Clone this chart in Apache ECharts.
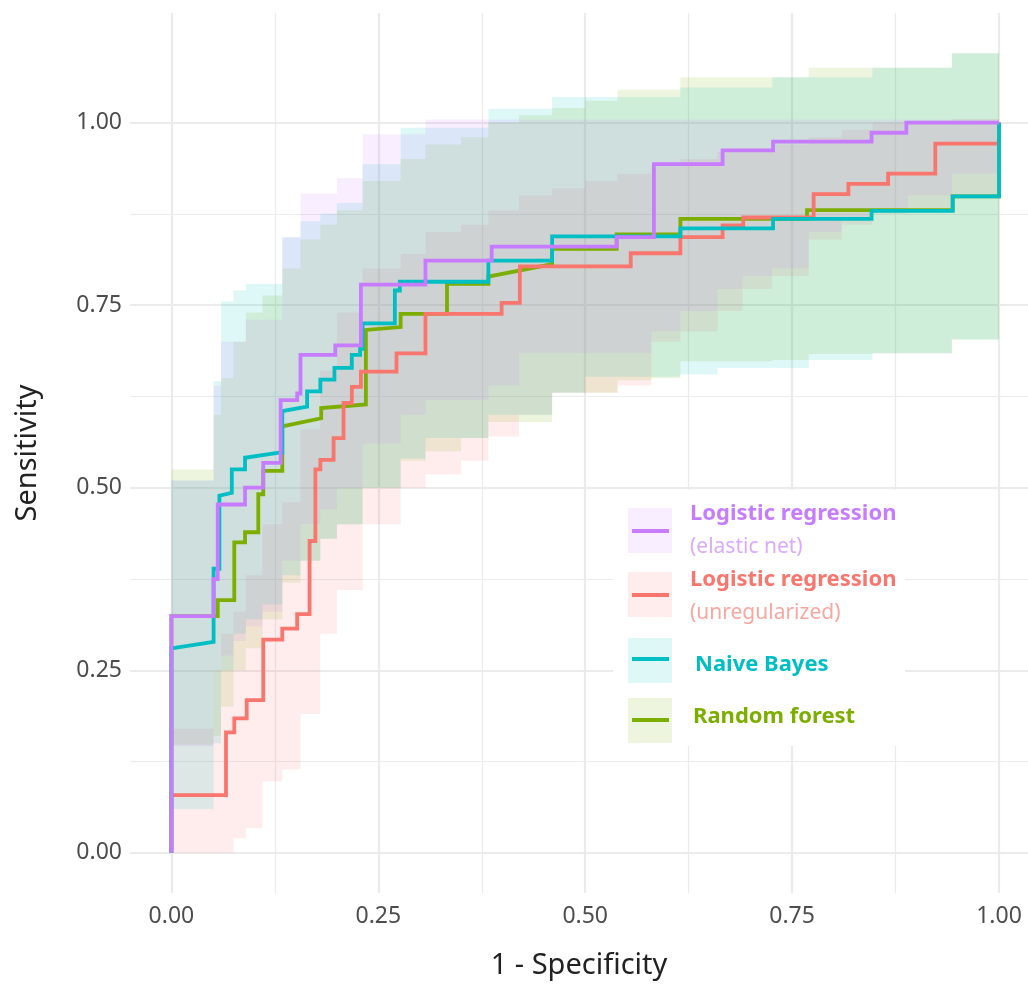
<!DOCTYPE html>
<html>
<head>
<meta charset="utf-8">
<title>ROC curves</title>
<script src="https://cdn.jsdelivr.net/npm/echarts@6/dist/echarts.min.js"></script>
<style>
  html, body { margin: 0; padding: 0; background: #fff; }
  #chart { width: 1028px; height: 985px; }
</style>
</head>
<body>
<div id="chart"></div>
<script>
// ROC corner points (1 - specificity, sensitivity)
const enetFpr  = [0, 0, 0.051, 0.051, 0.056, 0.056, 0.089, 0.089, 0.111, 0.111, 0.132, 0.132, 0.152, 0.152, 0.156, 0.156, 0.198, 0.198, 0.229, 0.229, 0.307, 0.307, 0.387, 0.387, 0.538, 0.538, 0.583, 0.583, 0.666, 0.666, 0.727, 0.727, 0.846, 0.846, 0.888, 0.888, 1];
const enetSens = [0, 0.324, 0.324, 0.375, 0.375, 0.477, 0.477, 0.5, 0.5, 0.534, 0.534, 0.62, 0.62, 0.629, 0.629, 0.682, 0.682, 0.695, 0.695, 0.778, 0.778, 0.811, 0.811, 0.83, 0.83, 0.843, 0.843, 0.943, 0.943, 0.962, 0.962, 0.974, 0.974, 0.986, 0.986, 1, 1];

const unregFpr  = [0, 0, 0.066, 0.066, 0.076, 0.076, 0.091, 0.091, 0.111, 0.111, 0.134, 0.134, 0.152, 0.152, 0.167, 0.167, 0.174, 0.174, 0.18, 0.18, 0.196, 0.196, 0.208, 0.208, 0.218, 0.218, 0.229, 0.229, 0.272, 0.272, 0.307, 0.307, 0.399, 0.399, 0.421, 0.421, 0.555, 0.555, 0.615, 0.615, 0.666, 0.666, 0.691, 0.691, 0.776, 0.776, 0.818, 0.818, 0.866, 0.866, 0.923, 0.923, 1];
const unregSens = [0, 0.079, 0.079, 0.165, 0.165, 0.184, 0.184, 0.209, 0.209, 0.292, 0.292, 0.307, 0.307, 0.327, 0.327, 0.427, 0.427, 0.525, 0.525, 0.538, 0.538, 0.568, 0.568, 0.616, 0.616, 0.638, 0.638, 0.659, 0.659, 0.684, 0.684, 0.738, 0.738, 0.753, 0.753, 0.803, 0.803, 0.821, 0.821, 0.843, 0.843, 0.859, 0.859, 0.87, 0.87, 0.902, 0.902, 0.916, 0.916, 0.93, 0.93, 0.971, 0.971];

const nbFpr  = [0, 0, 0.051, 0.051, 0.058, 0.058, 0.073, 0.073, 0.089, 0.089, 0.130, 0.134, 0.134, 0.164, 0.164, 0.18, 0.18, 0.197, 0.197, 0.218, 0.218, 0.228, 0.228, 0.231, 0.231, 0.27, 0.27, 0.276, 0.276, 0.383, 0.383, 0.46, 0.46, 0.615, 0.615, 0.727, 0.727, 0.846, 0.846, 0.944, 0.944, 1, 1];
const nbSens = [0, 0.28, 0.289, 0.389, 0.389, 0.489, 0.493, 0.525, 0.525, 0.541, 0.548, 0.548, 0.605, 0.611, 0.632, 0.632, 0.648, 0.648, 0.664, 0.664, 0.682, 0.682, 0.69, 0.69, 0.725, 0.725, 0.77, 0.77, 0.782, 0.782, 0.811, 0.811, 0.844, 0.844, 0.855, 0.855, 0.868, 0.868, 0.879, 0.879, 0.899, 0.899, 1];

const rfFpr  = [0, 0, 0.056, 0.056, 0.076, 0.076, 0.089, 0.089, 0.105, 0.105, 0.111, 0.111, 0.134, 0.134, 0.181, 0.181, 0.235, 0.235, 0.277, 0.277, 0.333, 0.333, 0.383, 0.383, 0.46, 0.46, 0.538, 0.538, 0.615, 0.615, 0.768, 0.768, 0.944, 0.944, 1, 1];
const rfSens = [0, 0.324, 0.324, 0.346, 0.346, 0.425, 0.425, 0.439, 0.439, 0.491, 0.491, 0.523, 0.523, 0.584, 0.595, 0.609, 0.614, 0.716, 0.72, 0.738, 0.738, 0.779, 0.779, 0.789, 0.806, 0.827, 0.827, 0.847, 0.847, 0.868, 0.868, 0.88, 0.88, 0.899, 0.899, 1];

// confidence bands: value i holds from bandX[i] to bandX[i + 1]
const bandX = [0, 0.051, 0.06, 0.075, 0.09, 0.11, 0.134, 0.156, 0.18, 0.2, 0.231, 0.277, 0.307, 0.35, 0.383, 0.42, 0.46, 0.5, 0.539, 0.58, 0.615, 0.66, 0.69, 0.726, 0.77, 0.81, 0.847, 0.89, 0.943, 1];

const enetUpper  = [0.51, 0.64, 0.70, 0.70, 0.73, 0.73, 0.843, 0.903, 0.903, 0.924, 0.984, 0.984, 1.004, 1.004, 1.004, 1.004, 1.004, 1.004, 1.004, 1.004, 1.004, 1.004, 1.004, 1.004, 1.004, 1.004, 1.004, 1.004, 1.004];
const enetLower  = [0.146, 0.25, 0.27, 0.29, 0.31, 0.33, 0.40, 0.45, 0.47, 0.50, 0.56, 0.60, 0.62, 0.62, 0.64, 0.684, 0.684, 0.684, 0.684, 0.714, 0.742, 0.772, 0.79, 0.80, 0.85, 0.87, 0.88, 0.90, 0.93];

const unregUpper = [0.17, 0.25, 0.30, 0.33, 0.38, 0.45, 0.48, 0.58, 0.66, 0.74, 0.80, 0.82, 0.85, 0.86, 0.88, 0.90, 0.91, 0.92, 0.93, 0.94, 0.95, 0.96, 0.96, 0.97, 0.98, 0.99, 1.0, 1.0, 1.005];
const unregLower = [0, 0, 0, 0.02, 0.034, 0.098, 0.114, 0.19, 0.30, 0.36, 0.45, 0.5, 0.518, 0.537, 0.57, 0.6, 0.63, 0.63, 0.64, 0.70, 0.714, 0.742, 0.772, 0.79, 0.84, 0.86, 0.875, 0.88, 0.90];

const nbUpper    = [0.51, 0.646, 0.755, 0.77, 0.779, 0.779, 0.843, 0.865, 0.875, 0.89, 0.943, 0.993, 0.993, 0.993, 1.019, 1.019, 1.035, 1.035, 1.035, 1.035, 1.048, 1.048, 1.048, 1.062, 1.062, 1.062, 1.075, 1.075, 1.095];
const nbLower    = [0.06, 0.15, 0.25, 0.30, 0.32, 0.34, 0.38, 0.40, 0.43, 0.45, 0.50, 0.54, 0.568, 0.568, 0.60, 0.60, 0.63, 0.652, 0.652, 0.652, 0.655, 0.664, 0.664, 0.664, 0.675, 0.675, 0.684, 0.684, 0.703];

const rfUpper    = [0.525, 0.60, 0.65, 0.70, 0.74, 0.763, 0.80, 0.84, 0.86, 0.88, 0.92, 0.95, 0.97, 0.98, 1.0, 1.01, 1.02, 1.03, 1.045, 1.045, 1.062, 1.062, 1.062, 1.062, 1.075, 1.075, 1.075, 1.075, 1.095];
const rfLower    = [0.148, 0.16, 0.20, 0.25, 0.28, 0.32, 0.37, 0.40, 0.43, 0.45, 0.50, 0.537, 0.55, 0.568, 0.59, 0.59, 0.63, 0.63, 0.647, 0.65, 0.673, 0.673, 0.673, 0.675, 0.683, 0.683, 0.684, 0.684, 0.703];

// axis ticks
const xTicks = [0, 0.25, 0.5, 0.75, 1];
const xMinor = [0.125, 0.375, 0.625, 0.875];
const yTicks = [0, 0.25, 0.5, 0.75, 1];
const yMinor = [0.125, 0.375, 0.625, 0.875];

// legend order (also the order in the key)
const models = [
  { name: 'Logistic regression', sub: '(elastic net)', color: '#C77CFF', fpr: enetFpr, sens: enetSens, lower: enetLower, upper: enetUpper },
  { name: 'Logistic regression', sub: '(unregularized)', color: '#F8766D', fpr: unregFpr, sens: unregSens, lower: unregLower, upper: unregUpper },
  { name: 'Naive Bayes', sub: '', color: '#00BFC4', fpr: nbFpr, sens: nbSens, lower: nbLower, upper: nbUpper },
  { name: 'Random forest', sub: '', color: '#7CAE00', fpr: rfFpr, sens: rfSens, lower: rfLower, upper: rfUpper }
];
// drawing order: green, red, cyan, purple on top
const drawOrder = [3, 1, 2, 0];

const FONT = '"Noto Sans", "DejaVu Sans", sans-serif';
const BAND_ALPHA = 0.13;
const chart = echarts.init(document.getElementById('chart'));

// shaded step band between lower and upper edge
const bandSeries = drawOrder.map(k => {
  const m = models[k];
  return {
    type: 'custom',
    name: m.name + ' ' + m.sub + ' CI',
    coordinateSystem: 'cartesian2d',
    silent: true,
    z: 1,
    data: [[0, 0]],
    renderItem: (params, api) => {
      const pts = [];
      for (let i = 0; i < bandX.length - 1; i++) {
        pts.push(api.coord([bandX[i], m.upper[i]]));
        pts.push(api.coord([bandX[i + 1], m.upper[i]]));
      }
      for (let i = bandX.length - 2; i >= 0; i--) {
        pts.push(api.coord([bandX[i + 1], m.lower[i]]));
        pts.push(api.coord([bandX[i], m.lower[i]]));
      }
      return {
        type: 'polygon',
        shape: { points: pts },
        style: { fill: m.color, opacity: BAND_ALPHA }
      };
    }
  };
});

const lineSeries = drawOrder.map(k => {
  const m = models[k];
  return {
    type: 'line',
    name: m.name + ' ' + m.sub,
    data: m.fpr.map((x, i) => [x, m.sens[i]]),
    symbol: 'none',
    z: 3,
    lineStyle: { color: m.color, width: 3.8, join: 'miter' },
    itemStyle: { color: m.color }
  };
});

// key drawn by hand so that each entry gets a shaded box and a two-part label
const keyRows = [
  { box: 508, line: 531, title: 514, sub: 547, tx: 690 },
  { box: 572, line: 595, title: 580, sub: 613, tx: 690 },
  { box: 638, line: 659, title: 665, sub: 0, tx: 695 },
  { box: 698, line: 720, title: 717, sub: 0, tx: 693 }
];
const keyGraphics = [
  { type: 'rect', z: 100, shape: { x: 613, y: 490, width: 292, height: 256 }, style: { fill: '#ffffff' } }
];
models.forEach((m, i) => {
  const r = keyRows[i];
  keyGraphics.push(
    { type: 'rect', z: 101, shape: { x: 628, y: r.box, width: 44, height: 45 }, style: { fill: m.color, opacity: BAND_ALPHA } },
    { type: 'line', z: 102, shape: { x1: 632, y1: r.line, x2: 669, y2: r.line }, style: { stroke: m.color, lineWidth: 3.8 } },
    { type: 'text', z: 102, style: { x: r.tx, y: r.title, text: m.name, fill: m.color, fontSize: 22, fontWeight: 'bold', fontFamily: FONT, verticalAlign: 'middle' } }
  );
  if (m.sub) {
    keyGraphics.push({ type: 'text', z: 102, style: { x: r.tx, y: r.sub, text: m.sub, fill: m.color, opacity: 0.65, fontSize: 21, fontFamily: FONT, verticalAlign: 'middle' } });
  }
});

const gridLine = (w) => ({ show: true, lineStyle: { color: '#EBEBEB', width: w } });

const option = {
  animation: false,
  backgroundColor: '#fff',
  grid: { left: 130, right: 0, top: 13, bottom: 88 },
  xAxis: [
    {
      type: 'value', min: -0.05, max: 1.035,
      axisLine: { show: false },
      axisTick: { show: false, customValues: xTicks },
      axisLabel: { customValues: xTicks, formatter: v => v.toFixed(2), color: '#4D4D4D', fontSize: 23, fontFamily: FONT, margin: 12 },
      splitLine: gridLine(2.2),
      name: '1 - Specificity', nameLocation: 'middle', nameGap: 58,
      nameTextStyle: { fontSize: 29, color: '#222', fontFamily: FONT }
    },
    {
      type: 'value', min: -0.05, max: 1.035, position: 'top',
      axisLine: { show: false },
      axisTick: { show: false, customValues: xMinor },
      axisLabel: { show: false },
      splitLine: gridLine(1.2)
    }
  ],
  yAxis: [
    {
      type: 'value', min: -0.055, max: 1.15,
      axisLine: { show: false },
      axisTick: { show: false, customValues: yTicks },
      axisLabel: { customValues: yTicks, formatter: v => v.toFixed(2), color: '#4D4D4D', fontSize: 23, fontFamily: FONT, margin: 8 },
      splitLine: gridLine(2.2),
      name: 'Sensitivity', nameLocation: 'middle', nameGap: 88, nameRotate: 90,
      nameTextStyle: { fontSize: 29, color: '#222', fontFamily: FONT }
    },
    {
      type: 'value', min: -0.055, max: 1.15, position: 'right',
      axisLine: { show: false },
      axisTick: { show: false, customValues: yMinor },
      axisLabel: { show: false },
      splitLine: gridLine(1.2)
    }
  ],
  series: [...bandSeries, ...lineSeries],
  graphic: keyGraphics
};

chart.setOption(option);
</script>
</body>
</html>
